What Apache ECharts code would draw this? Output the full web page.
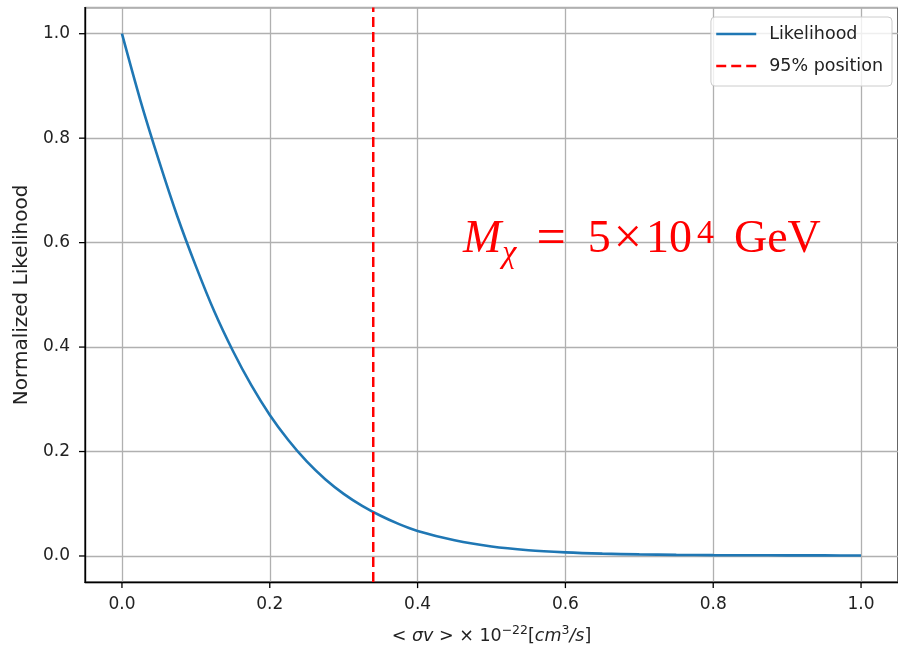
<!DOCTYPE html>
<html>
<head>
<meta charset="utf-8">
<script src="https://cdn.jsdelivr.net/npm/echarts@6/dist/echarts.min.js"></script>
<style>
html,body{margin:0;padding:0;background:#fff;}
#chart{width:898px;height:654px;}
</style>
</head>
<body>
<div id="chart"></div>
<script>
// ---- data ----
const xValues = [0, 0.025, 0.05, 0.075, 0.1, 0.125, 0.15, 0.175, 0.2, 0.225, 0.25, 0.275, 0.3, 0.325, 0.35, 0.375, 0.4, 0.45, 0.5, 0.55, 0.6, 0.65, 0.7, 0.75, 0.8, 0.85, 0.9, 0.95, 1.0];
const likelihood = [1.0, 0.872, 0.757, 0.65, 0.555, 0.468, 0.393, 0.327, 0.27, 0.222, 0.181, 0.147, 0.119, 0.096, 0.077, 0.061, 0.048, 0.030, 0.018, 0.011, 0.007, 0.0045, 0.003, 0.0022, 0.0017, 0.0014, 0.0012, 0.0011, 0.001];
const position95 = 0.34;
const xTicks = [0, 0.2, 0.4, 0.6, 0.8, 1.0];
const yTicks = [0, 0.2, 0.4, 0.6, 0.8, 1.0];
const seriesNames = ['Likelihood', '95% position'];
const yName = 'Normalized Likelihood';

const axisMin = -0.05, axisMax = 1.05;
const curve = xValues.map((x, i) => [x, likelihood[i]]);
const vline = [[position95, axisMin], [position95, axisMax]];

const chart = echarts.init(document.getElementById('chart'), null, {renderer: 'canvas'});
const font = 'DejaVu Sans';
const serif = 'Liberation Serif';
const tickColor = '#222';
const red = '#ff0000';
const gridLine = {show: true, lineStyle: {color: '#b0b0b0', width: 1.3}};
const axisLine = {show: true, onZero: false, lineStyle: {color: '#000', width: 1.3}};
const tickLen = 6;

const annotation = {
  id: 'annot', type: 'text', left: 463, top: 214, z: 10,
  style: {
    text: '{m|M}{c|χ}{e|=}{n|5}{x|×}{d|10}{s|4}{g|GeV}',
    rich: {
      m: {fontSize: 46, fontFamily: serif, fontStyle: 'italic', fill: red},
      c: {fontSize: 32, fontFamily: serif, fontStyle: 'italic', fill: red, padding: [28, 0, 0, 1]},
      e: {fontSize: 52, fontFamily: serif, fill: red, padding: [0, 0, 0, 20]},
      n: {fontSize: 46, fontFamily: serif, fill: red, padding: [0, 0, 0, 22]},
      x: {fontSize: 50, fontFamily: serif, fill: red, padding: [0, 0, 0, 3]},
      d: {fontSize: 46, fontFamily: serif, fill: red, padding: [0, 0, 0, 4]},
      s: {fontSize: 34, fontFamily: serif, fill: red, padding: [0, 0, 12, 5]},
      g: {fontSize: 46, fontFamily: serif, fill: red, padding: [0, 0, 0, 20]}
    }
  }
};

chart.setOption({
  animation: false,
  backgroundColor: '#fff',
  grid: {left: 85, top: 7.6, width: 818, height: 574.5, show: true, borderColor: '#000', borderWidth: 1.3, backgroundColor: 'transparent'},
  xAxis: {
    type: 'value', min: axisMin, max: axisMax,
    axisLine: axisLine,
    axisTick: {show: false},
    axisLabel: {customValues: xTicks, formatter: v => v.toFixed(1), fontSize: 17, fontFamily: font, color: tickColor, margin: 14},
    splitLine: gridLine,
    name: '{t|< }{i|σv}{t| > × 10}{s|−22}{t|[}{i|cm}{s|3}{i|/s}{t|]}',
    nameLocation: 'middle', nameGap: 42,
    nameTextStyle: {
      rich: {
        t: {fontSize: 17.5, fontFamily: font, color: tickColor},
        i: {fontSize: 17.5, fontFamily: font, fontStyle: 'italic', color: tickColor},
        s: {fontSize: 12.5, fontFamily: font, color: tickColor, padding: [0, 0, 12, 0]}
      }
    }
  },
  yAxis: {
    type: 'value', min: axisMin, max: axisMax,
    axisLine: axisLine,
    axisTick: {show: false},
    axisLabel: {customValues: yTicks, formatter: v => v.toFixed(1), fontSize: 17, fontFamily: font, color: tickColor, margin: 15},
    splitLine: gridLine,
    name: yName, nameLocation: 'middle', nameGap: 47,
    nameTextStyle: {fontSize: 20, fontFamily: font, color: tickColor}
  },
  legend: {
    orient: 'vertical', right: 6, top: 17,
    padding: [7, 9, 10, 4],
    itemWidth: 40, itemHeight: 14, itemGap: 12,
    itemStyle: {opacity: 0},
    lineStyle: {width: 2.6},
    backgroundColor: 'rgba(255,255,255,0.8)', borderColor: '#cccccc', borderWidth: 1, borderRadius: 4,
    textStyle: {fontSize: 17.5, fontFamily: font, color: tickColor, lineHeight: 20, padding: [0, 0, 0, 8]},
    data: seriesNames
  },
  series: [
    {
      name: seriesNames[0], type: 'line', data: curve, showSymbol: false, symbol: 'none',
      smooth: 0.3,
      lineStyle: {color: '#1f77b4', width: 2.6}, itemStyle: {color: '#1f77b4'}, z: 3
    },
    {
      name: seriesNames[1], type: 'line', data: vline, showSymbol: false, symbol: 'none',
      lineStyle: {color: red, width: 2.5, type: [10, 5]}, itemStyle: {color: red}, z: 4
    }
  ],
  graphic: [annotation]
});

// tick marks placed through the chart's own scales
const tickGraphics = [];
xTicks.forEach((v, i) => {
  const p = chart.convertToPixel({gridIndex: 0}, [v, axisMin]);
  tickGraphics.push({id: 'xt' + i, type: 'line', z: 20, silent: true,
    shape: {x1: p[0], y1: p[1], x2: p[0], y2: p[1] + tickLen},
    style: {stroke: '#000', lineWidth: 1.3}});
});
yTicks.forEach((v, i) => {
  const p = chart.convertToPixel({gridIndex: 0}, [axisMin, v]);
  tickGraphics.push({id: 'yt' + i, type: 'line', z: 20, silent: true,
    shape: {x1: p[0] - tickLen, y1: p[1], x2: p[0], y2: p[1]},
    style: {stroke: '#000', lineWidth: 1.3}});
});
chart.setOption({graphic: [annotation].concat(tickGraphics)});
</script>
</body>
</html>
